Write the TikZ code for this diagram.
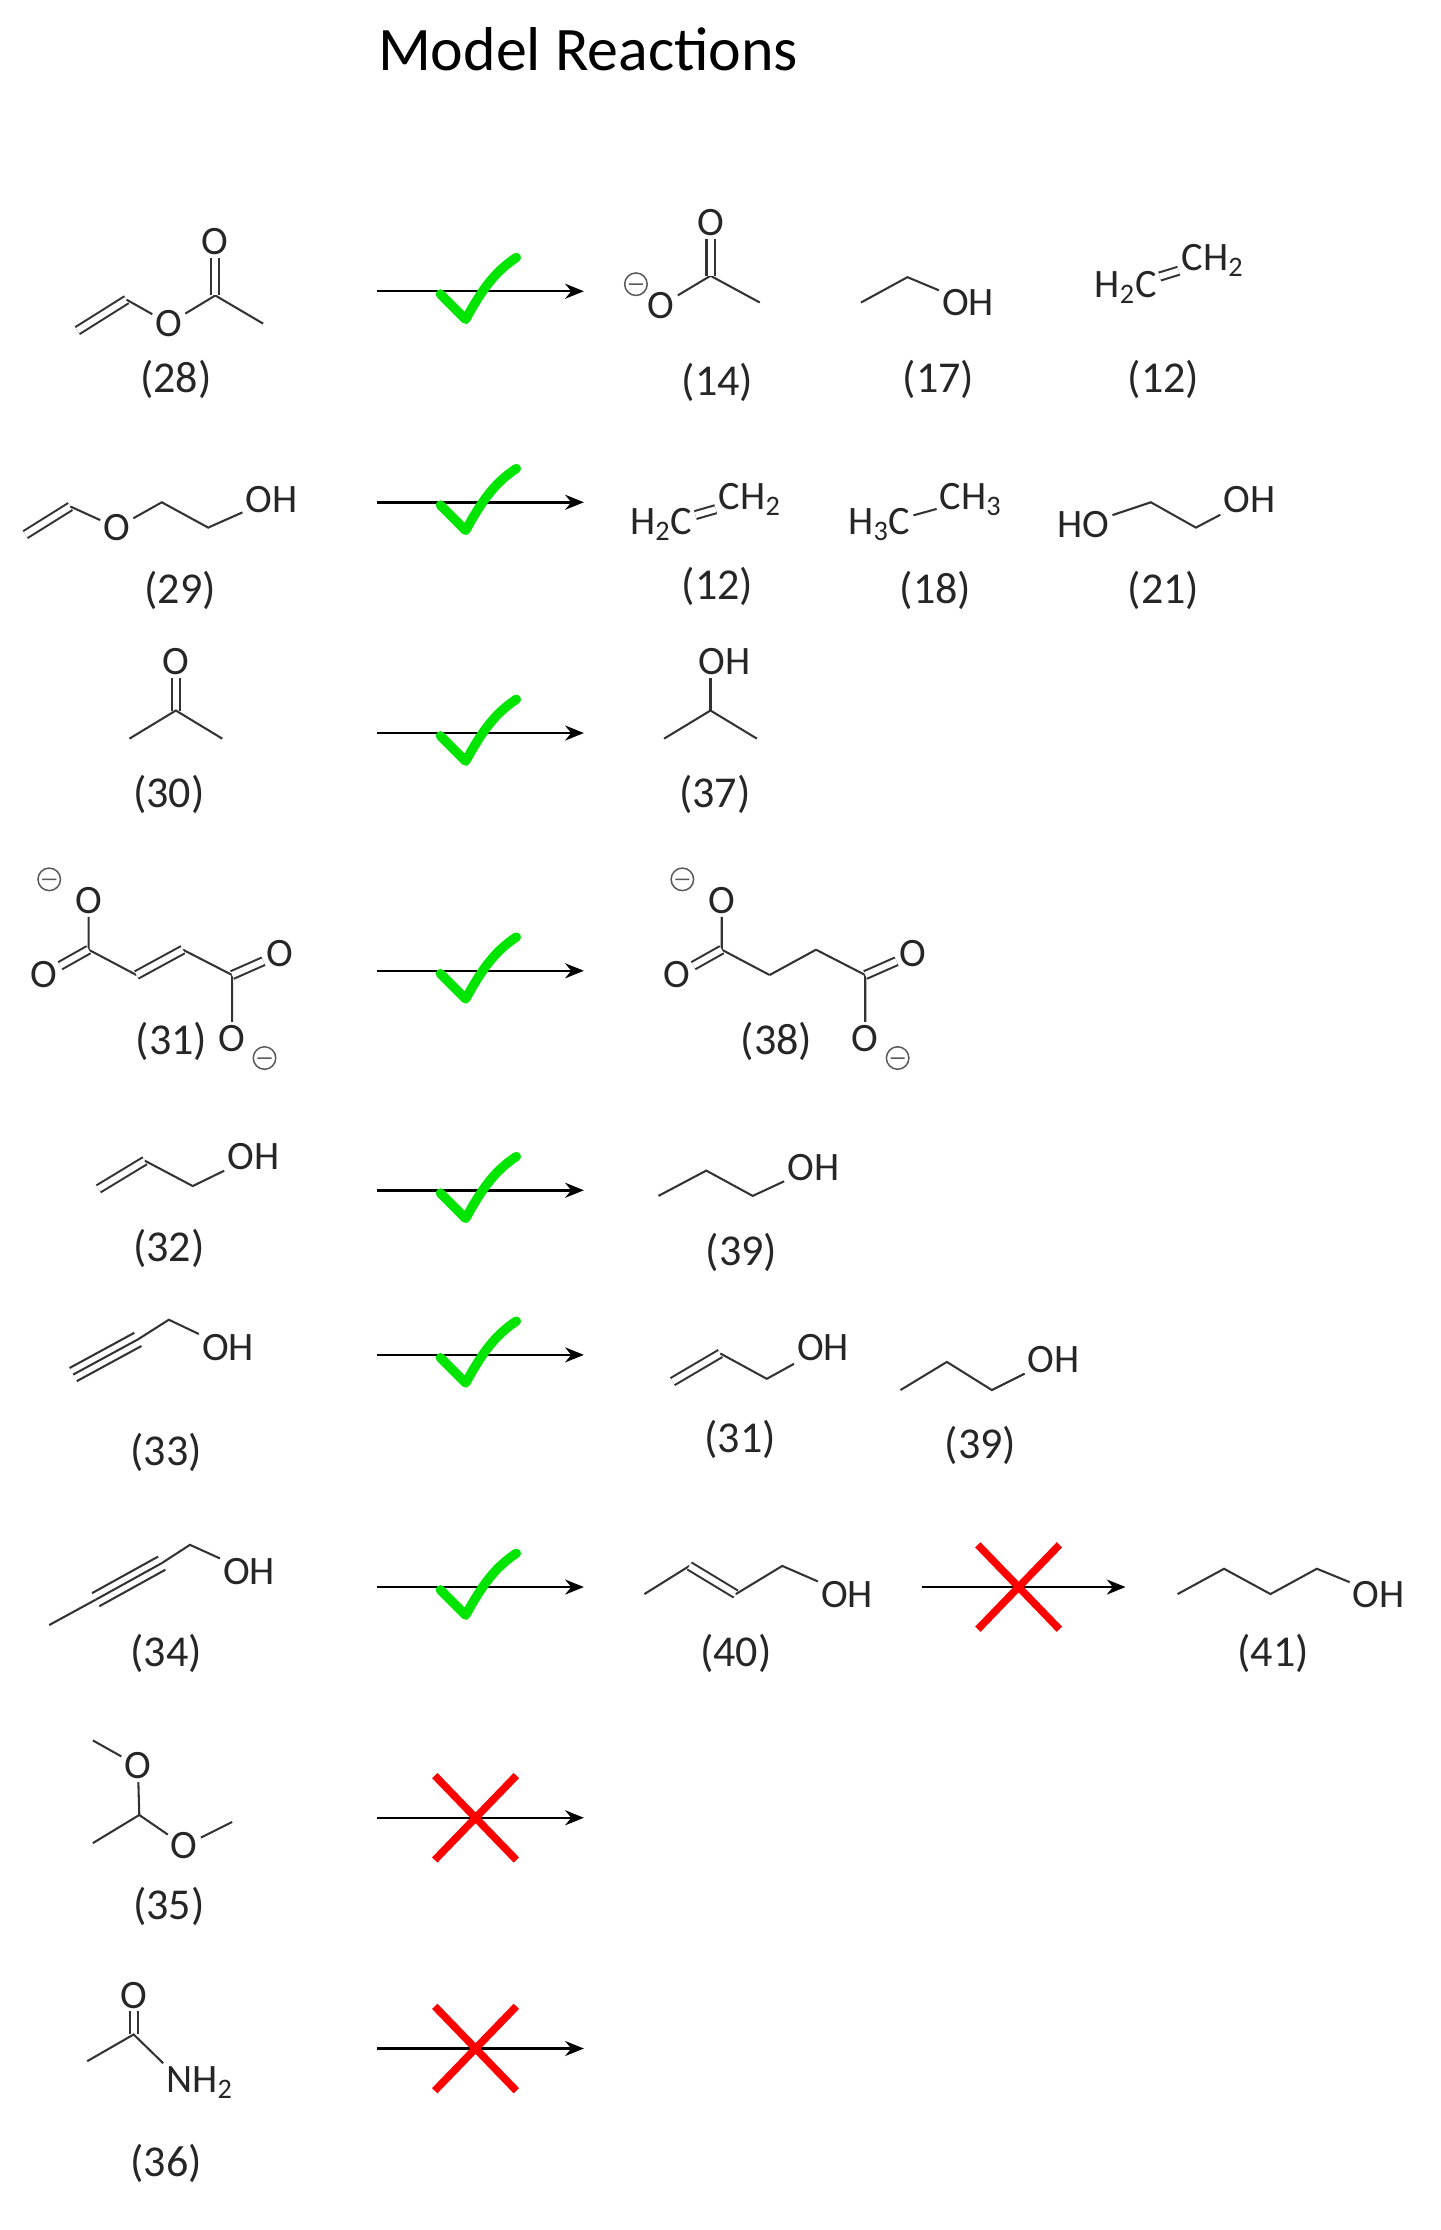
\documentclass[tikz,border=0pt]{standalone}
\usepackage{fontspec}
\setmainfont{Carlito}
\usetikzlibrary{arrows.meta,calc}
\newcommand\negch[1]{\draw[gray!70!black,line width=0.8pt] #1 circle (8) ++(-5,0) -- ++(10,0);}
\begin{document}
\begin{tikzpicture}[x=0.75pt,y=-0.75pt,
  bond/.style={line width=1.1pt,black!80},
  dbl/.style={bond,double=white,double distance=3.2pt},
  trp/.style={line width=1.1pt,black!80},
  atom/.style={inner sep=1.5pt,font=\fontsize{21.5}{22}\selectfont,text=black!85},
  lab/.style={inner sep=0pt,font=\fontsize{23.5}{26}\selectfont,text=black!85},
  rxn/.style={line width=1.3pt,-{Stealth[length=10pt,width=8pt]}},
  chk/.pic={\draw[green!90!black,line width=5pt,line cap=round,line join=round] (-27,2) -- (-9,20) .. controls (3,-2) and (12,-14) .. (27,-24);},
  crs/.pic={\draw[red,line width=4pt] (-29,-30) -- (29,30) (-29,30) -- (29,-30);}]
\useasboundingbox (0,0) rectangle (1024,1585);
\node[font=\fontsize{33}{38}\selectfont] (title) at (418,35) {Model Reactions};

% arrows
\foreach \n/\y in {a/207,b/357,c/521,d/690,e/846,f/963,g/1128,h/1292,i/1456}{
  \coordinate (s\n) at (268,\y); \coordinate (t\n) at (415,\y);
  \draw[rxn] (s\n) -- (t\n);
}
\foreach \y in {207,357,521,690,846,963,1128} \pic at (340,\y) {chk};
\foreach \y in {1292,1456} \pic at (338,\y) {crs};
\coordinate (sj) at (655,1128); \coordinate (tj) at (800,1128);
\draw[rxn] (sj) -- (tj);
\pic at (724,1128) {crs};

% (28)
\coordinate (c28a) at (55,235); \coordinate (c28b) at (90,213);
\node[atom] (o28a) at (120,230) {O}; \coordinate (c28c) at (153,210);
\node[atom] (o28b) at (153,172) {O}; \coordinate (c28d) at (187,230);
\draw[dbl] (c28a) -- (c28b); \draw[bond] (c28b) -- (o28a) -- (c28c) -- (c28d);
\draw[dbl] (c28c) -- (o28b);
\node[lab] (l28) at (125,270) {(28)};
% (14)
\node[atom] (o14a) at (470,217) {O}; \negch{(452,202)}
\coordinate (c14) at (505,196); \node[atom] (o14b) at (505,158) {O}; \coordinate (c14b) at (540,215);
\draw[bond] (o14a) -- (c14) -- (c14b); \draw[dbl] (c14) -- (o14b);
\node[lab] (l14) at (510,272) {(14)};
% (17)
\coordinate (c17a) at (612,215); \coordinate (c17b) at (645,197); \node[atom] (o17) at (688,215) {OH};
\draw[bond] (c17a) -- (c17b) -- (o17);
\node[lab] (l17) at (667,270) {(17)};
% (12)
\node[atom] (h12a) at (800,204) {H\textsubscript{2}C}; \node[atom] (h12b) at (862,185) {CH\textsubscript{2}};
\draw[dbl] (h12a) -- (h12b);
\node[lab] (l12a) at (827,270) {(12)};

% (29)
\coordinate (c29a) at (18,380); \coordinate (c29b) at (50,360); \node[atom] (o29) at (83,375) {O};
\coordinate (c29c) at (115,357); \coordinate (c29d) at (148,375); \node[atom] (oh29) at (193,355) {OH};
\draw[dbl] (c29a) -- (c29b); \draw[bond] (c29b) -- (o29) -- (c29c) -- (c29d) -- (oh29);
\node[lab] (l29) at (128,420) {(29)};
\node[atom] (h12c) at (470,373) {H\textsubscript{2}C}; \node[atom] (h12d) at (533,355) {CH\textsubscript{2}};
\draw[dbl] (h12c) -- (h12d);
\node[lab] (l12b) at (510,417) {(12)};
\node[atom] (h18a) at (625,373) {H\textsubscript{3}C}; \node[atom] (h18b) at (690,355) {CH\textsubscript{3}};
\draw[bond] (h18a) -- (h18b);
\node[lab] (l18) at (665,420) {(18)};
\node[atom] (ho21) at (770,373) {HO}; \coordinate (c21a) at (818,357); \coordinate (c21b) at (850,375);
\node[atom] (oh21) at (888,355) {OH};
\draw[bond] (ho21) -- (c21a) -- (c21b) -- (oh21);
\node[lab] (l21) at (827,420) {(21)};

% (30)
\coordinate (c30) at (125,505); \node[atom] (o30) at (125,470) {O};
\coordinate (c30a) at (92,525); \coordinate (c30b) at (158,525);
\draw[dbl] (c30) -- (o30); \draw[bond] (c30a) -- (c30) -- (c30b);
\node[lab] (l30) at (120,565) {(30)};
% (37)
\coordinate (c37) at (505,505); \node[atom] (o37) at (515,470) {OH};
\coordinate (c37a) at (472,525); \coordinate (c37b) at (538,525);
\draw[bond] (c37a) -- (c37) -- (c37b); \draw[bond] (c37) -- (c37 |- o37.south);
\node[lab] (l37) at (508,565) {(37)};

% (31) fumarate and (38) succinate
\foreach \dx/\nm in {0/f,450/s}{
  \begin{scope}[xshift=\dx*0.75pt]
  \negch{(35,625)}
  \node[atom] (ot\nm) at (63,640) {O}; \coordinate (c1\nm) at (63,675);
  \node[atom] (ol\nm) at (31,693) {O};
  \coordinate (c2\nm) at (97,693); \coordinate (c3\nm) at (130,675); \coordinate (c4\nm) at (165,693);
  \node[atom] (or\nm) at (199,678) {O}; \node[atom] (ob\nm) at (165,738) {O};
  \negch{(188,752)}
  \draw[bond] (ot\nm) -- (c1\nm) -- (c2\nm); \draw[dbl] (c1\nm) -- (ol\nm);
  \draw[bond] (c3\nm) -- (c4\nm) -- (ob\nm); \draw[dbl] (c4\nm) -- (or\nm);
  \end{scope}
}
\draw[dbl] (c2f) -- (c3f); \draw[bond] (c2s) -- (c3s);
\node[lab] (l31a) at (122,740) {(31)};
\node[lab] (l38) at (552,740) {(38)};

% (32)
\coordinate (c32a) at (70,845); \coordinate (c32b) at (103,825); \coordinate (c32c) at (137,843);
\node[atom] (oh32) at (180,822) {OH};
\draw[dbl] (c32a) -- (c32b); \draw[bond] (c32b) -- (c32c) -- (oh32);
\node[lab] (l32) at (120,887) {(32)};
% (39)
\coordinate (c39a) at (468,850); \coordinate (c39b) at (502,832); \coordinate (c39c) at (535,850);
\node[atom] (oh39) at (578,830) {OH};
\draw[bond] (c39a) -- (c39b) -- (c39c) -- (oh39);
\node[lab] (l39a) at (527,890) {(39)};

% (33)
\coordinate (c33a) at (52,977); \coordinate (c33b) at (98,952); \coordinate (c33c) at (120,938);
\node[atom] (oh33) at (162,958) {OH};
\draw[trp] (c33a) -- (c33b);
\draw[trp] ($(c33a)!4pt!90:(c33b)$) -- ($(c33b)!4pt!-90:(c33a)$);
\draw[trp] ($(c33a)!4pt!-90:(c33b)$) -- ($(c33b)!4pt!90:(c33a)$);
\draw[bond] (c33b) -- (c33c) -- (oh33);
\node[lab] (l33) at (118,1032) {(33)};
% (31) allyl alcohol
\coordinate (c31a) at (478,982); \coordinate (c31b) at (512,962); \coordinate (c31c) at (545,980);
\node[atom] (oh31) at (585,958) {OH};
\draw[dbl] (c31a) -- (c31b); \draw[bond] (c31b) -- (c31c) -- (oh31);
\node[lab] (l31b) at (526,1023) {(31)};
% (39)
\coordinate (c39d) at (640,988); \coordinate (c39e) at (673,968); \coordinate (c39f) at (705,988);
\node[atom] (oh39b) at (749,966) {OH};
\draw[bond] (c39d) -- (c39e) -- (c39f) -- (oh39b);
\node[lab] (l39b) at (697,1027) {(39)};

% (34)
\coordinate (c34a) at (35,1155); \coordinate (c34b) at (68,1137); \coordinate (c34c) at (115,1111); \coordinate (c34d) at (135,1098);
\node[atom] (oh34) at (177,1117) {OH};
\draw[bond] (c34a) -- (c34b);
\draw[trp] (c34b) -- (c34c);
\draw[trp] ($(c34b)!4pt!90:(c34c)$) -- ($(c34c)!4pt!-90:(c34b)$);
\draw[trp] ($(c34b)!4pt!-90:(c34c)$) -- ($(c34c)!4pt!90:(c34b)$);
\draw[bond] (c34c) -- (c34d) -- (oh34);
\node[lab] (l34) at (118,1175) {(34)};
% (40)
\coordinate (c40a) at (458,1133); \coordinate (c40b) at (490,1113); \coordinate (c40c) at (523,1133); \coordinate (c40d) at (556,1113);
\node[atom] (oh40) at (602,1133) {OH};
\draw[bond] (c40a) -- (c40b); \draw[dbl] (c40b) -- (c40c); \draw[bond] (c40c) -- (c40d) -- (oh40);
\node[lab] (l40) at (523,1175) {(40)};
% (41)
\coordinate (c41a) at (837,1133); \coordinate (c41b) at (870,1115); \coordinate (c41c) at (903,1133); \coordinate (c41d) at (936,1115);
\node[atom] (oh41) at (980,1133) {OH};
\draw[bond] (c41a) -- (c41b) -- (c41c) -- (c41d) -- (oh41);
\node[lab] (l41) at (905,1175) {(41)};

% (35)
\coordinate (c35m) at (66,1237); \node[atom] (o35a) at (98,1255) {O};
\coordinate (c35) at (99,1290); \coordinate (c35b) at (66,1310);
\node[atom] (o35b) at (131,1312) {O}; \coordinate (c35c) at (165,1295);
\draw[bond] (c35m) -- (o35a) -- (c35) -- (c35b); \draw[bond] (c35) -- (o35b) -- (c35c);
\node[lab] (l35) at (120,1355) {(35)};
% (36)
\coordinate (c36) at (95,1446); \node[atom] (o36) at (95,1418) {O}; \coordinate (c36m) at (62,1465);
\node[atom,anchor=west] (n36) at (116,1480) {NH\textsubscript{2}};
\draw[dbl] (c36) -- (o36); \draw[bond] (c36m) -- (c36) -- (n36.north west);
\node[lab] (l36) at (118,1538) {(36)};
\end{tikzpicture}
\end{document}
